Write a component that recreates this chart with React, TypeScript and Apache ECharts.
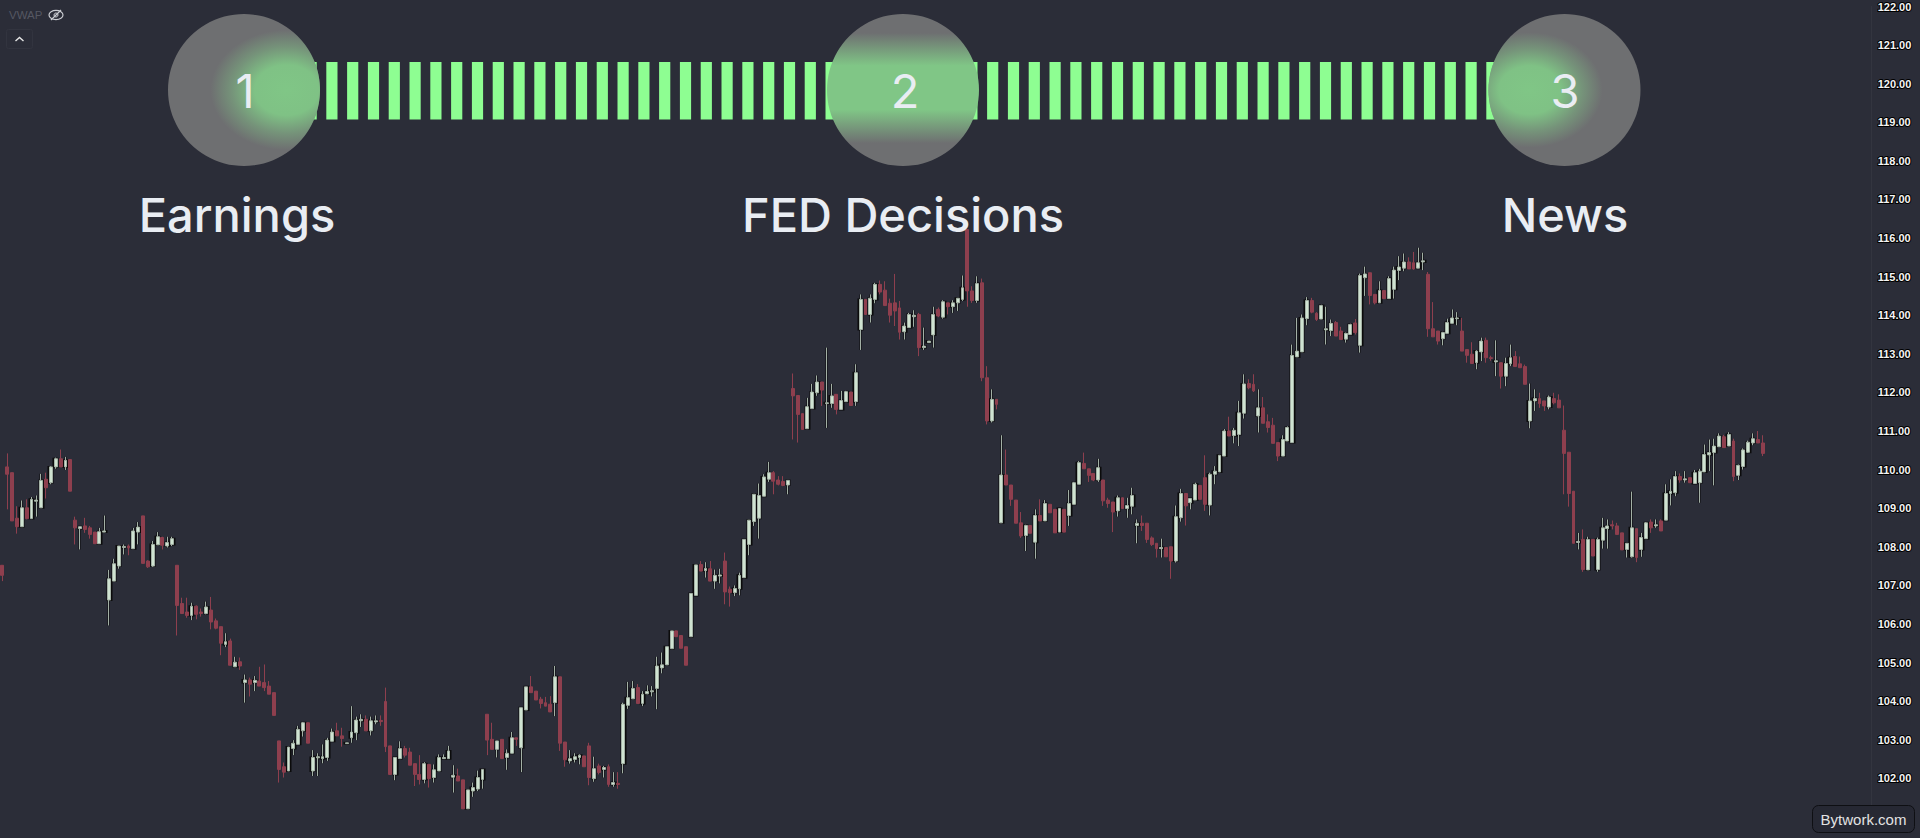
import React, { useEffect, useRef } from "react";
import * as echarts from "echarts";

// [open, close, low, high]
const candlesA = [
[107.52,107.26,107.11,107.52],[110.07,109.88,108.97,110.42],[109.92,108.67,108.67,109.92],[108.74,108.52,108.34,109.05],
[108.52,109.01,108.52,109.20],[109.01,108.73,108.71,109.23],[108.73,109.23,108.73,109.29],[109.18,109.21,108.78,109.33],
[109.01,109.72,109.01,109.89],[109.75,109.53,109.25,109.92],[109.66,110.07,109.62,110.09],[110.07,110.28,110.02,110.31],
[110.28,110.07,110.07,110.52],[110.07,110.24,109.99,110.33],[110.26,109.44,109.44,110.26],[108.69,108.49,108.06,108.78],
[108.47,108.52,107.93,108.52],[108.54,108.45,108.36,108.75],[108.49,108.32,108.21,108.54],[108.38,108.08,108.08,108.38],
[108.08,108.39,108.08,108.49],[108.38,108.41,108.38,108.81],[106.62,107.17,105.96,107.40],[107.11,107.56,107.11,107.69],
[107.50,108.02,107.43,108.02],[107.98,108.01,107.80,108.06],[108.02,107.97,107.78,108.06],[107.95,108.41,107.95,108.49],
[108.38,108.51,108.06,108.64],[108.80,107.57,107.57,108.80],[107.63,107.48,107.45,107.65],[107.50,108.06,107.48,108.15],
[108.05,108.26,108.05,108.38],[108.24,108.04,107.93,108.26],[108.02,108.11,107.98,108.26],[108.06,108.21,108.02,108.26],
[107.52,106.48,105.70,107.52],[106.53,106.27,106.27,106.68],[106.31,106.22,106.16,106.68],[106.22,106.46,106.10,106.55],
[106.46,106.25,106.12,106.48],[106.31,106.27,106.19,106.40],[106.27,106.44,106.25,106.58],[106.36,106.05,105.86,106.70],
[106.08,105.89,105.86,106.14],[105.93,105.50,105.19,105.93],[105.47,105.54,105.40,105.76],[105.56,104.93,104.93,105.62],
[104.89,105.01,104.89,105.15],[105.02,104.91,104.81,105.13],[104.48,104.55,103.96,104.69],[104.55,104.44,104.12,104.61],
[104.48,104.54,104.26,104.65],[104.52,104.39,104.39,104.89],[104.48,104.35,104.26,104.95],[104.39,104.18,104.18,104.52],
[104.22,103.63,103.63,104.22],[102.97,102.23,101.89,102.97],[102.30,102.16,102.02,102.41],[102.19,102.81,102.19,102.81],
[102.77,102.91,102.60,102.99],[102.88,103.27,102.88,103.36],[103.23,103.44,103.08,103.46],[103.44,102.91,102.91,103.44],
[102.19,102.54,102.06,102.73],[102.53,102.56,102.06,102.65],[102.51,102.56,102.39,102.88],[102.54,102.99,102.45,103.05],
[102.96,103.20,102.96,103.29],[103.23,103.10,103.10,103.44],[103.10,103.03,102.82,103.31],[102.90,102.92,102.90,102.92],
[103.05,103.20,102.92,103.87],[103.18,103.51,102.99,103.60],[103.49,103.53,103.33,103.66],[103.53,103.23,103.23,103.63],
[103.23,103.49,103.11,103.60],[103.46,103.49,103.40,103.63],[103.50,103.47,103.36,103.63],[103.99,102.82,102.68,104.35],
[102.84,102.10,102.10,102.84],[102.10,102.54,101.95,102.54],[102.51,102.77,102.51,102.96],[102.77,102.60,102.54,102.84],
[102.68,102.34,102.34,102.79],[102.38,102.10,101.80,102.38],[102.10,101.97,101.84,102.60],[101.97,102.38,101.87,102.42],
[102.36,101.99,101.76,102.36],[102.02,102.22,101.89,102.36],[102.19,102.54,102.19,102.62],[102.51,102.54,102.51,102.62],
[102.51,102.71,102.51,102.84],[102.03,102.08,101.63,102.34],[102.06,101.93,101.93,102.25],[101.96,101.21,101.21,101.96],
[101.21,101.70,101.21,101.70],[101.67,101.76,101.52,101.89],[101.72,102.02,101.67,102.20],
];

const candlesB = [
[101.97,102.23,101.73,102.23],[103.66,102.99,102.60,103.66],[103.01,102.75,102.75,103.44],[102.75,102.97,102.54,102.97],
[103.01,102.51,102.51,103.01],[102.54,102.65,102.22,102.75],[102.65,103.05,102.65,103.20],[103.05,103.01,102.84,103.05],
[102.79,103.83,102.16,103.83],[103.77,104.37,103.77,104.37],[104.37,104.22,104.22,104.65],[104.26,104.03,104.03,104.26],
[104.05,103.94,103.81,104.11],[103.96,103.87,103.87,104.11],[103.92,103.72,103.72,104.13],[103.96,104.63,103.61,104.91],
[104.63,102.91,102.71,104.63],[102.94,102.48,102.30,102.94],[102.45,102.51,102.38,102.73],[102.49,102.56,102.41,102.65],
[102.54,102.60,102.36,102.62],[102.58,102.30,102.30,102.58],[102.84,102.02,101.82,102.92],[101.99,102.25,101.91,102.56],
[102.32,102.15,102.10,102.38],[102.23,102.28,102.02,102.32],[102.30,101.84,101.78,102.36],[101.84,101.89,101.78,102.16],
[101.87,101.84,101.73,102.16],[102.38,103.92,102.13,103.96],[103.89,104.09,103.80,104.50],[104.06,104.33,104.06,104.52],
[104.35,103.94,103.94,104.44],[103.94,104.18,103.87,104.26],[104.19,104.25,104.18,104.41],[104.24,104.27,104.12,104.39],
[104.33,104.91,103.79,105.15],[104.86,104.94,104.72,105.26],[104.94,105.41,104.94,105.41],[105.36,105.82,105.36,105.82],
[105.82,105.67,105.67,105.82],[105.70,105.37,105.37,105.70],[105.41,104.93,104.93,105.41],[105.67,106.79,105.67,106.79],
[106.74,107.53,106.74,107.53],[107.54,107.37,107.37,107.63],[107.38,107.44,107.20,107.60],[107.43,107.11,107.11,107.63],
[107.11,107.26,106.91,107.41],[107.24,107.27,107.05,107.43],[107.63,106.83,106.51,107.85],[106.90,106.81,106.45,106.97],
[106.81,106.92,106.72,107.00],[106.91,107.26,106.74,107.33],[107.20,108.19,107.20,108.19],[108.06,108.69,107.78,108.69],
[108.65,109.36,108.54,109.36],[108.74,109.33,108.21,109.64],[109.31,109.81,109.31,109.88],[109.75,109.92,109.68,110.20],
[109.92,109.70,109.36,109.96],[109.73,109.62,109.59,109.83],[109.69,109.59,109.57,109.83],[109.60,109.72,109.36,109.72],
];

const candlesC = [
[112.10,111.91,110.78,112.49],[111.92,111.43,110.70,111.92],[111.45,111.04,111.04,111.45],[111.06,111.63,111.06,111.86],
[111.58,112.01,111.58,112.22],[111.99,112.27,111.91,112.44],[112.27,112.06,111.65,112.27],[111.71,111.73,111.08,113.16],
[111.71,111.91,111.60,112.22],[111.95,111.56,111.43,111.95],[111.56,111.79,111.56,112.04],[111.76,112.02,111.76,112.04],
[112.01,111.66,111.66,112.01],[111.76,112.51,111.65,112.73],[113.63,114.41,113.10,114.54],[114.41,114.02,114.02,114.41],
[114.02,114.44,113.81,114.54],[114.41,114.80,114.31,114.84],[114.80,114.60,114.54,114.90],[114.65,114.25,114.25,114.88],
[114.31,114.00,113.81,114.43],[114.32,114.11,113.72,115.07],[114.19,113.56,113.37,114.37],[113.57,113.72,113.37,113.81],
[113.68,114.02,113.68,114.06],[113.96,114.00,113.70,114.13],[114.02,113.16,112.94,114.06],[113.16,113.20,113.10,113.68],
[113.29,113.33,113.29,113.33],[113.49,114.02,113.16,114.22],[114.15,113.98,113.95,114.20],[113.95,114.35,113.91,114.39],
[114.32,114.22,114.02,114.32],[114.22,114.32,114.06,114.39],[114.32,114.44,114.11,114.44],[114.41,114.71,114.37,115.03],
[116.22,114.63,114.22,116.22],[114.63,114.38,114.32,114.75],[114.38,114.82,114.32,115.01],[114.84,112.38,112.29,114.95],
[112.38,111.26,111.17,112.68],[111.26,111.82,111.22,112.08],[111.82,111.69,111.56,111.82],[108.62,109.86,108.62,110.89],
[109.86,109.60,109.60,110.52],[109.60,109.23,109.06,109.60],[109.21,108.61,108.61,109.21],[108.62,108.28,108.23,108.90],
[108.29,108.55,107.89,108.57],[108.55,108.35,108.35,108.55],[108.12,108.81,107.69,108.97],[108.81,108.67,108.67,109.23],
[108.67,109.12,108.67,109.21],[109.10,108.88,108.88,109.10],[108.97,108.36,108.36,108.97],[108.38,108.99,108.38,109.00],
[108.97,108.38,108.38,108.97],[108.81,109.12,108.54,109.47],[109.10,109.66,109.10,109.68],[109.62,110.18,109.62,110.22],
[110.16,110.02,110.02,110.44],[110.02,109.85,109.68,110.02],[109.90,109.73,109.70,109.90],[109.73,110.05,109.68,110.28],
[109.73,109.19,109.06,109.73],[109.21,109.12,109.01,109.27],[109.16,108.90,108.38,109.16],[108.93,109.27,108.78,109.33],
[109.27,108.99,108.99,109.27],[108.99,109.07,108.75,109.27],[109.05,109.33,108.84,109.53],[108.55,108.61,108.09,108.71],
[108.61,108.55,108.41,108.81],[108.61,108.19,108.10,108.61],[108.23,108.06,108.02,108.27],[108.09,107.95,107.72,108.09],
[107.95,107.98,107.72,108.21],[107.98,107.74,107.74,107.98],[108.00,107.63,107.17,108.00],[107.63,108.78,107.59,109.07],
[108.75,109.38,108.65,109.50],[109.38,109.06,108.55,109.38],[109.14,109.25,108.97,109.25],[109.21,109.62,109.21,109.66],
[109.59,109.23,109.23,109.59],[109.79,109.10,108.93,110.37],[109.08,109.88,108.81,109.92],[109.88,109.96,109.62,110.09],
[109.94,110.37,109.94,110.37],[110.35,111.00,110.35,111.05],[111.00,110.87,110.87,111.37],[110.88,111.02,110.68,111.08],
[110.91,111.47,110.61,111.78],
];

const candlesD = [
[111.46,112.22,111.32,112.47],[112.23,112.12,112.08,112.34],[112.21,112.04,112.01,112.47],[111.39,111.60,110.96,112.08],
[111.60,111.20,111.20,111.88],[111.24,111.09,110.96,111.43],[111.15,110.68,110.68,111.34],[110.70,110.35,110.22,110.70],
[110.35,110.78,110.35,110.89],[110.74,111.09,110.74,111.12],[110.70,112.96,110.70,113.24],[112.92,113.07,112.92,113.93],
[113.05,113.93,113.05,114.02],[113.91,114.38,113.74,114.47],[114.38,114.08,114.05,114.45],[114.05,113.89,113.85,114.08],
[113.90,114.25,113.90,114.27],[113.62,113.65,113.24,114.22],[113.60,113.79,113.46,113.89],[113.81,113.46,113.46,113.85],
[113.59,113.37,113.37,113.70],[113.38,113.53,113.29,113.55],[113.50,113.76,113.50,113.78],[113.80,113.55,113.50,113.90],[113.22,115.03,113.03,115.08],
[114.97,115.07,114.50,115.26],[115.10,114.51,114.28,115.10],[114.54,114.32,114.28,114.54],[114.32,114.64,114.32,114.88],
[114.64,114.43,114.43,114.64],[114.43,114.95,114.43,115.01],[114.67,115.17,114.43,115.26],[115.16,115.25,114.91,115.53],
[115.22,115.38,115.14,115.60],[115.38,115.20,115.20,115.50],[115.36,115.20,115.18,115.64],[115.22,115.36,115.22,115.75],[115.38,115.41,115.17,115.62],
[115.06,113.65,113.44,115.12],[113.65,113.44,113.44,114.34],[113.59,113.33,113.24,113.59],[113.39,113.55,113.22,113.57],
[113.53,113.81,113.53,113.91],[113.79,113.93,113.79,114.15],[113.91,113.93,113.74,114.08],[113.59,113.07,113.07,113.93],
[113.11,112.96,112.77,113.11],[112.99,112.75,112.75,113.30],[112.77,113.07,112.60,113.09],[113.05,113.33,112.81,113.42],
[113.35,112.90,112.77,113.42],[112.90,112.88,112.82,112.95],[112.79,112.82,112.42,113.35],[112.77,112.42,112.10,112.77],[112.42,112.75,112.16,112.90],
[112.74,112.90,112.68,113.24],[112.93,112.67,112.67,113.07],[112.74,112.64,112.64,112.93],[112.67,112.21,112.21,112.72],
[111.26,111.78,111.07,112.23],[111.78,111.84,111.52,112.08],[111.84,111.71,111.60,111.99],[111.78,111.65,111.52,111.78],
[111.62,111.88,111.56,111.92],[111.84,111.73,111.69,111.99],[111.80,111.60,111.60,111.95],[111.02,110.42,109.36,111.66],[110.45,109.38,109.04,110.45],
[109.44,108.09,108.09,109.44],[108.11,108.14,107.93,108.36],[108.19,107.41,107.35,108.45],[107.40,108.19,107.40,108.26],
[108.19,107.76,107.76,108.19],[107.41,108.19,107.35,108.24],[108.17,108.49,107.95,108.75],[108.47,108.54,107.95,108.71],
[108.57,108.54,108.45,108.68],[108.54,108.32,108.32,108.62],[108.36,107.92,107.92,108.36],[107.93,108.09,107.72,108.09],[107.74,108.49,107.72,109.43],
[108.47,107.72,107.60,108.47],[107.93,108.24,107.74,108.36],[108.21,108.62,108.21,108.64],[108.64,108.49,108.36,108.71],
[108.54,108.57,108.49,108.71],[108.67,108.41,108.41,108.71],[108.69,109.38,108.69,109.62],[109.38,109.44,109.07,109.75],[109.40,109.82,109.31,109.96],
[109.82,109.73,109.66,109.90],[109.73,109.76,109.66,109.96],[109.79,109.66,109.66,109.79],[109.64,109.92,109.64,109.99],[109.66,109.96,109.14,110.02],
[109.94,110.39,109.94,110.65],[110.38,110.44,109.96,110.78],[110.44,110.61,109.59,110.80],[110.59,110.87,110.59,110.94],
[110.85,110.57,110.57,110.90],[110.61,110.91,110.61,110.97],[110.74,109.82,109.70,110.80],[109.85,110.11,109.73,110.13],
[110.08,110.51,110.00,110.55],[110.45,110.71,110.43,110.75],[110.69,110.80,110.63,110.94],[110.78,110.69,110.69,111.00],[110.69,110.42,110.35,110.89],
];

const candles = [...candlesA, ...candlesB, ...candlesC, ...candlesD];
const SLOTS = 386;
const categories = Array.from({ length: SLOTS }, (_, i) => String(i));
const priceMin = 101;
const priceMax = 122;
const firstPriceLabel = 102;
const stepLabels = ["Earnings", "FED Decisions", "News"];
const stepNumbers = ["1", "2", "3"];
const vwapLabel = "VWAP";
const brand = "Bytwork.com";

const BG = "#2b2d38";
const GRAY = "#6e6f71";
const GLOW = "#80c686";
const STRIPE = "#8efe92";
const TXT = "#e9edf3";
const R = 76;
const CY = 90;
const cxs = [244, 903, 1564.5];

function stripes() {
  const out: any[] = [];
  for (let k = 0; k < 26; k++) {
    out.push({ type: "rect", z: 50, shape: { x: 305.5 + 20.8 * k, y: 62, width: 11.2, height: 57.5 }, style: { fill: STRIPE } });
  }
  for (let k = 0; k < 26; k++) {
    out.push({ type: "rect", z: 50, shape: { x: 966.3 + 20.8 * k, y: 62, width: 11.2, height: 57.5 }, style: { fill: STRIPE } });
  }
  return out;
}

// the circle cut to a horizontal band, so that its box-relative radial gradient is an ellipse
function bandPoints(cx: number, h: number) {
  const pts: number[][] = [];
  for (let a = 0; a < 180; a++) {
    const t = (a / 180) * Math.PI * 2;
    const y = Math.max(-h, Math.min(h, R * Math.sin(t)));
    pts.push([cx + R * Math.cos(t), CY + y]);
  }
  return pts;
}

function glowStops() {
  return [
    { offset: 0, color: "rgba(128,198,134,1)" },
    { offset: 0.42, color: "rgba(128,198,134,0.95)" },
    { offset: 0.72, color: "rgba(128,198,134,0.42)" },
    { offset: 1, color: "rgba(128,198,134,0)" },
  ];
}

function circles() {
  const out: any[] = [];
  out.push({ type: "circle", z: 60, shape: { cx: cxs[0], cy: CY, r: R }, style: { fill: GRAY } });
  out.push({
    type: "polygon", z: 61, shape: { points: bandPoints(cxs[0], 60) },
    style: { fill: new echarts.graphic.RadialGradient(0.78, 0.5, 0.5, glowStops()) },
  });
  out.push({
    type: "circle", z: 60, shape: { cx: cxs[1], cy: CY, r: R },
    style: {
      fill: new echarts.graphic.LinearGradient(0, 0, 0, 1, [
        { offset: 0, color: GRAY },
        { offset: 0.125, color: GRAY },
        { offset: 0.34, color: GLOW },
        { offset: 0.63, color: GLOW },
        { offset: 0.85, color: GRAY },
        { offset: 1, color: GRAY },
      ]),
    },
  });
  out.push({ type: "circle", z: 60, shape: { cx: cxs[2], cy: CY, r: R }, style: { fill: GRAY } });
  out.push({
    type: "polygon", z: 61, shape: { points: bandPoints(cxs[2], 60) },
    style: { fill: new echarts.graphic.RadialGradient(0.27, 0.5, 0.48, glowStops()) },
  });
  return out;
}

function texts() {
  const out: any[] = [];
  const numX = [245, 905, 1565];
  const labX = [237, 903, 1565];
  stepNumbers.forEach((t, i) => {
    out.push({ type: "text", z: 70, x: numX[i], y: 90, style: { text: t, fill: TXT, font: "400 47px Inter", textAlign: "center", textVerticalAlign: "middle" } });
  });
  stepLabels.forEach((t, i) => {
    out.push({ type: "text", z: 70, x: labX[i], y: 214, style: { text: t, fill: TXT, font: "500 47px Inter", textAlign: "center", textVerticalAlign: "middle" } });
  });
  return out;
}

function chrome() {
  return [
    { type: "text", z: 70, x: 9, y: 15, style: { text: vwapLabel, fill: "#555762", font: "11.5px 'Liberation Sans'", textAlign: "left", textVerticalAlign: "middle" } },
    { type: "ellipse", z: 70, shape: { cx: 56, cy: 15, rx: 7, ry: 4.6 }, style: { fill: "none", stroke: "#c9cbd0", lineWidth: 1.2 } },
    { type: "circle", z: 70, shape: { cx: 56, cy: 15, r: 2 }, style: { fill: "none", stroke: "#c9cbd0", lineWidth: 1 } },
    { type: "line", z: 70, shape: { x1: 51, y1: 20, x2: 61, y2: 10 }, style: { stroke: "#c9cbd0", lineWidth: 1.2 } },
    { type: "rect", z: 70, shape: { x: 6.5, y: 29.5, width: 26, height: 19, r: 2 }, style: { fill: "none", stroke: "#32343f", lineWidth: 1 } },
    { type: "polyline", z: 70, shape: { points: [[15.5, 41], [19.5, 37.5], [23.5, 41]] }, style: { fill: "none", stroke: "#e6e6e6", lineWidth: 1.4 } },
    { type: "rect", z: 80, shape: { x: 1812.5, y: 805.5, width: 102, height: 27, r: 6 }, style: { fill: "#262833", stroke: "#0e0f13", lineWidth: 1 } },
    { type: "text", z: 81, x: 1863.5, y: 819, style: { text: brand, fill: "#e2e2e2", font: "15px 'Liberation Sans'", textAlign: "center", textVerticalAlign: "middle" } },
  ];
}

export default function App() {
  const ref = useRef<HTMLDivElement>(null);
  useEffect(() => {
    document.body.style.margin = "0";
    document.body.style.background = BG;
    const chart = echarts.init(ref.current!, undefined, { renderer: "svg" });
    chart.setOption({
      animation: false,
      backgroundColor: BG,
      grid: { left: -0.4, top: 6.3, width: 1872.1, height: 810.6, containLabel: false },
      xAxis: { type: "category", data: categories, show: false, boundaryGap: true },
      yAxis: {
        type: "value",
        position: "right",
        min: priceMin,
        max: priceMax,
        interval: 1,
        scale: true,
        axisLine: { show: true, lineStyle: { color: "#33353f", width: 1 } },
        axisTick: { show: false },
        splitLine: { show: false },
        axisLabel: {
          margin: 6,
          color: "#f4f4f4",
          fontFamily: "Liberation Sans",
          fontWeight: "bold",
          fontSize: 11,
          textBorderColor: "#000000",
          textBorderWidth: 2,
          formatter: (v: number) => (v < firstPriceLabel ? "" : v.toFixed(2)),
        },
      },
      series: [
        {
          name: "shade",
          type: "candlestick",
          data: candles,
          barWidth: 4.4,
          silent: true,
          z: 2,
          itemStyle: { color: "#0b0b0b", color0: "transparent", borderColor: "#0b0b0b", borderColor0: "transparent", borderWidth: 2 },
        },
        {
          name: "price",
          type: "candlestick",
          data: candles,
          barWidth: 3.4,
          z: 3,
          itemStyle: { color: "#cfe3d1", color0: "#8e3f4e", borderColor: "#a3b0a5", borderColor0: "#8e3f4e", borderWidth: 1 },
        },
      ],
      graphic: { elements: [...stripes(), ...circles(), ...texts(), ...chrome()] },
    });
    return () => chart.dispose();
  }, []);
  return <div ref={ref} style={{ width: 1920, height: 838 }} />;
}
